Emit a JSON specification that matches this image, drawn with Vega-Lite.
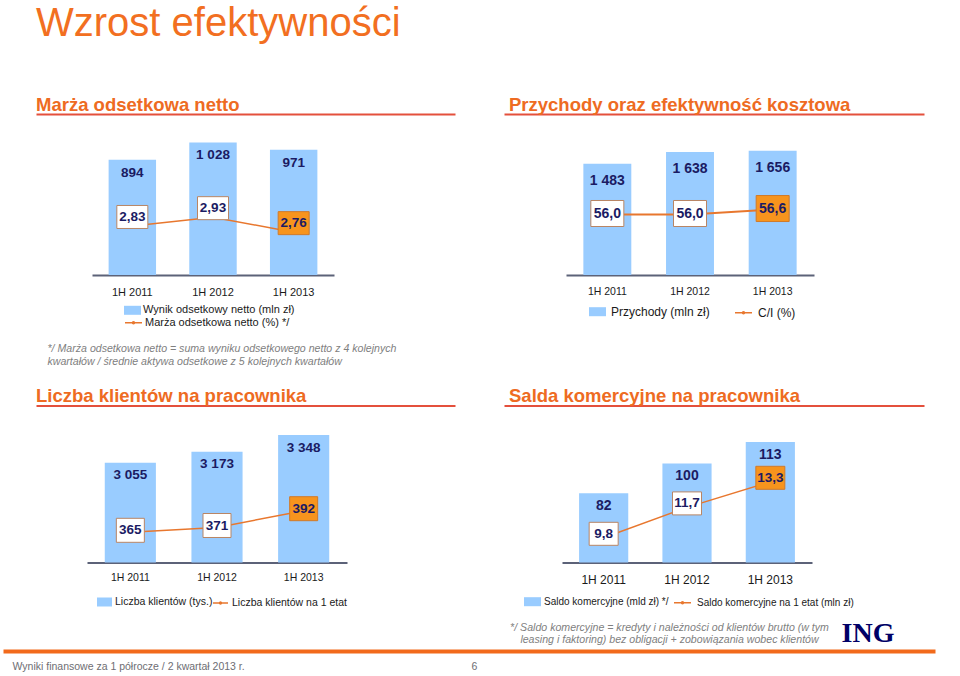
{
  "$schema": "https://vega.github.io/schema/vega-lite/v6.json",
  "padding": {"left": 11, "top": 3, "right": 0, "bottom": 0},
  "title": {"text": "Wzrost efektywności", "anchor": "start", "frame": "group", "fontSize": 40, "fontWeight": "normal", "font": "Liberation Sans", "color": "#F26F21", "offset": 52},
  "columns": 2,
  "bounds": "flush",
  "spacing": {"row": 130.5, "column": 49},
  "resolve": {"scale": {"fill": "independent", "stroke": "independent"}, "legend": {"fill": "independent", "stroke": "independent"}},
  "concat": [
    {
      "width": 419, "height": 161,
      "title": {"text": "Marża odsetkowa netto", "anchor": "start", "frame": "group", "fontSize": 18.5, "fontWeight": "bold", "color": "#EE6B22", "offset": 0},
      "data": {"values": [
        {"period": "1H 2011", "value": 894, "ratio": 2.83},
        {"period": "1H 2012", "value": 1028, "ratio": 2.93},
        {"period": "1H 2013", "value": 971, "ratio": 2.76}
      ]},
      "layer": [
        {"mark": {"type": "point", "opacity": 0, "size": 0},
         "encoding": {"x": {"datum": 0, "type": "quantitative", "scale": {"domain": [0, 1]}, "axis": {"orient": "top", "domain": true, "domainColor": "#E4503C", "domainWidth": 2, "labels": false, "ticks": false, "grid": false, "title": null}},
                      "y": {"datum": 0, "type": "quantitative", "scale": {"domain": [0, 1]}, "axis": null}}},
        {"mark": {"type": "bar"},
         "encoding": {
           "x": {"field": "period", "type": "nominal", "scale": {"type": "band", "domain": ["1H 2011", "1H 2012", "1H 2013"], "range": [56, 298], "paddingInner": 0.412, "paddingOuter": 0.206},
             "axis": {"orient": "bottom", "domain": true, "domainColor": "#5C6278", "domainWidth": 2, "ticks": false, "grid": false, "labelAngle": 0, "labelFontSize": 11, "labelColor": "#1a1a1a", "labelPadding": 11,
               "title": ["*/ Marża odsetkowa netto = suma wyniku odsetkowego netto z 4 kolejnych", "kwartałów / średnie aktywa odsetkowe z 5 kolejnych kwartałów"],
               "titleX": 11, "titleY": 68, "titleAlign": "left", "titleBaseline": "top", "titleFontSize": 10.6, "titleFontStyle": "italic", "titleFontWeight": "normal", "titleColor": "#808080", "titleLineHeight": 13.4}},
           "y": {"field": "value", "type": "quantitative", "scale": {"domain": [0, 1248], "nice": false}, "axis": null},
           "fill": {"datum": "Wynik odsetkowy netto (mln zł)", "scale": {"range": ["#99CCFF"]},
             "legend": {"orient": "none", "legendX": 88, "legendY": 187.8, "title": null, "symbolType": "M-1,-0.53H1V0.53H-1Z", "symbolSize": 289, "symbolStrokeWidth": 0, "labelFontSize": 11, "labelOffset": 2, "labelColor": "#1a1a1a", "padding": 0, "labelLimit": 400}}}},
        {"mark": {"type": "text", "baseline": "middle", "dy": 13, "fontSize": 13.5, "fontWeight": "bold", "color": "#1B1B63"},
         "encoding": {
           "x": {"field": "period", "type": "nominal", "scale": {"type": "band", "domain": ["1H 2011", "1H 2012", "1H 2013"], "range": [56, 298], "paddingInner": 0.412, "paddingOuter": 0.206}, "axis": null},
           "y": {"field": "value", "type": "quantitative", "scale": {"domain": [0, 1248], "nice": false}, "axis": null},
           "text": {"field": "value", "type": "quantitative", "format": ",d"}}},
        {"mark": {"type": "line", "strokeWidth": 1.5},
         "encoding": {
           "x": {"field": "period", "type": "nominal", "scale": {"type": "band", "domain": ["1H 2011", "1H 2012", "1H 2013"], "range": [56, 298], "paddingInner": 0.412, "paddingOuter": 0.206}, "axis": null},
           "y": {"field": "ratio", "type": "quantitative", "scale": {"domain": [2.273, 4.1025], "nice": false, "zero": false}, "axis": null},
           "stroke": {"datum": "Marża odsetkowa netto (%) */", "scale": {"range": ["#E8772E"]},
             "legend": {"orient": "none", "legendX": 88, "legendY": 199.2, "title": null, "symbolType": "M-1,0H1M-0.12,0A0.12,0.12,0,1,1,0.12,0A0.12,0.12,0,1,1,-0.12,0", "symbolSize": 289, "symbolStrokeWidth": 1.5, "labelFontSize": 11, "labelOffset": 2, "labelColor": "#1a1a1a", "padding": 0, "labelLimit": 400}}}},
        {"mark": {"type": "point", "shape": "M-1,-0.742H1V0.742H-1Z", "size": 961, "filled": true, "opacity": 1, "strokeWidth": 1, "yOffset": -9},
         "encoding": {
           "x": {"field": "period", "type": "nominal", "scale": {"type": "band", "domain": ["1H 2011", "1H 2012", "1H 2013"], "range": [56, 298], "paddingInner": 0.412, "paddingOuter": 0.206}, "axis": null},
           "y": {"field": "ratio", "type": "quantitative", "scale": {"domain": [2.273, 4.1025], "nice": false, "zero": false}, "axis": null},
           "fill": {"condition": {"test": "datum.period === '1H 2013'", "value": "#F7941D"}, "value": "#FFFFFF"},
           "stroke": {"condition": {"test": "datum.period === '1H 2013'", "value": "#D07A2A"}, "value": "#B98564"}}},
        {"mark": {"type": "text", "baseline": "middle", "dy": -9, "fontSize": 13.5, "fontWeight": "bold", "color": "#1B1B63"},
         "encoding": {
           "x": {"field": "period", "type": "nominal", "scale": {"type": "band", "domain": ["1H 2011", "1H 2012", "1H 2013"], "range": [56, 298], "paddingInner": 0.412, "paddingOuter": 0.206}, "axis": null},
           "y": {"field": "ratio", "type": "quantitative", "scale": {"domain": [2.273, 4.1025], "nice": false, "zero": false}, "axis": null},
           "text": {"field": "ratio", "type": "quantitative", "format": ".2f"}}}
      ],
      "resolve": {"scale": {"x": "independent", "y": "independent"}, "axis": {"x": "independent", "y": "independent"}}
    },
    {
      "width": 420, "height": 161,
      "title": {"text": "Przychody oraz efektywność kosztowa", "anchor": "start", "frame": "group", "fontSize": 18.5, "fontWeight": "bold", "color": "#EE6B22", "offset": 0, "dx": 5},
      "data": {"values": [
        {"period": "1H 2011", "value": 1483, "ratio": 56.0},
        {"period": "1H 2012", "value": 1638, "ratio": 56.0},
        {"period": "1H 2013", "value": 1656, "ratio": 56.6}
      ]},
      "layer": [
        {"mark": {"type": "point", "opacity": 0, "size": 0},
         "encoding": {"x": {"datum": 0, "type": "quantitative", "scale": {"domain": [0, 1]}, "axis": {"orient": "top", "domain": true, "domainColor": "#E4503C", "domainWidth": 2, "labels": false, "ticks": false, "grid": false, "title": null}},
                      "y": {"datum": 0, "type": "quantitative", "scale": {"domain": [0, 1]}, "axis": null}}},
        {"mark": {"type": "bar"},
         "encoding": {
           "x": {"field": "period", "type": "nominal", "scale": {"type": "band", "domain": ["1H 2011", "1H 2012", "1H 2013"], "range": [62, 310], "paddingInner": 0.42, "paddingOuter": 0.21},
             "axis": {"orient": "bottom", "domain": true, "domainColor": "#5C6278", "domainWidth": 2, "ticks": false, "grid": false, "labelAngle": 0, "labelFontSize": 10.5, "labelColor": "#1a1a1a", "labelPadding": 11, "title": null}},
           "y": {"field": "value", "type": "quantitative", "scale": {"domain": [0, 2144], "nice": false}, "axis": null},
           "fill": {"datum": "Przychody (mln zł)", "scale": {"range": ["#99CCFF"]},
             "legend": {"orient": "none", "legendX": 85, "legendY": 189.2, "title": null, "symbolType": "M-1,-0.53H1V0.53H-1Z", "symbolSize": 289, "symbolStrokeWidth": 0, "labelFontSize": 12, "labelOffset": 5, "labelColor": "#1a1a1a", "padding": 0, "labelLimit": 400}}}},
        {"mark": {"type": "text", "baseline": "middle", "dy": 17, "fontSize": 14, "fontWeight": "bold", "color": "#1B1B63"},
         "encoding": {
           "x": {"field": "period", "type": "nominal", "scale": {"type": "band", "domain": ["1H 2011", "1H 2012", "1H 2013"], "range": [62, 310], "paddingInner": 0.42, "paddingOuter": 0.21}, "axis": null},
           "y": {"field": "value", "type": "quantitative", "scale": {"domain": [0, 2144], "nice": false}, "axis": null},
           "text": {"field": "value", "type": "quantitative", "format": ",d"}}},
        {"mark": {"type": "line", "strokeWidth": 2},
         "encoding": {
           "x": {"field": "period", "type": "nominal", "scale": {"type": "band", "domain": ["1H 2011", "1H 2012", "1H 2013"], "range": [62, 310], "paddingInner": 0.42, "paddingOuter": 0.21}, "axis": null},
           "y": {"field": "ratio", "type": "quantitative", "scale": {"domain": [48.71, 68.11], "nice": false, "zero": false}, "axis": null},
           "stroke": {"datum": "C/I (%)", "scale": {"range": ["#E8772E"]},
             "legend": {"orient": "none", "legendX": 230, "legendY": 189.2, "title": null, "symbolType": "M-1,0H1M-0.12,0A0.12,0.12,0,1,1,0.12,0A0.12,0.12,0,1,1,-0.12,0", "symbolSize": 289, "symbolStrokeWidth": 1.5, "labelFontSize": 12, "labelOffset": 5, "labelColor": "#1a1a1a", "padding": 0, "labelLimit": 400}}}},
        {"mark": {"type": "point", "shape": "M-1,-0.788H1V0.788H-1Z", "size": 1089, "filled": true, "opacity": 1, "strokeWidth": 1, "yOffset": -1},
         "encoding": {
           "x": {"field": "period", "type": "nominal", "scale": {"type": "band", "domain": ["1H 2011", "1H 2012", "1H 2013"], "range": [62, 310], "paddingInner": 0.42, "paddingOuter": 0.21}, "axis": null},
           "y": {"field": "ratio", "type": "quantitative", "scale": {"domain": [48.71, 68.11], "nice": false, "zero": false}, "axis": null},
           "fill": {"condition": {"test": "datum.period === '1H 2013'", "value": "#F7941D"}, "value": "#FFFFFF"},
           "stroke": {"condition": {"test": "datum.period === '1H 2013'", "value": "#D07A2A"}, "value": "#B98564"}}},
        {"mark": {"type": "text", "baseline": "middle", "dy": -1, "fontSize": 14, "fontWeight": "bold", "color": "#1B1B63"},
         "encoding": {
           "x": {"field": "period", "type": "nominal", "scale": {"type": "band", "domain": ["1H 2011", "1H 2012", "1H 2013"], "range": [62, 310], "paddingInner": 0.42, "paddingOuter": 0.21}, "axis": null},
           "y": {"field": "ratio", "type": "quantitative", "scale": {"domain": [48.71, 68.11], "nice": false, "zero": false}, "axis": null},
           "text": {"field": "ratio", "type": "quantitative", "format": ".1f"}}}
      ],
      "resolve": {"scale": {"x": "independent", "y": "independent"}, "axis": {"x": "independent", "y": "independent"}}
    },
    {
      "width": 419, "height": 157,
      "title": {"text": "Liczba klientów na pracownika", "anchor": "start", "frame": "group", "fontSize": 18.5, "fontWeight": "bold", "color": "#EE6B22", "offset": 0},
      "data": {"values": [
        {"period": "1H 2011", "value": 3055, "ratio": 365},
        {"period": "1H 2012", "value": 3173, "ratio": 371},
        {"period": "1H 2013", "value": 3348, "ratio": 392}
      ]},
      "layer": [
        {"mark": {"type": "point", "opacity": 0, "size": 0},
         "encoding": {"x": {"datum": 0, "type": "quantitative", "scale": {"domain": [0, 1]}, "axis": {"orient": "top", "domain": true, "domainColor": "#E4503C", "domainWidth": 2, "labels": false, "ticks": false, "grid": false, "title": null}},
                      "y": {"datum": 0, "type": "quantitative", "scale": {"domain": [0, 1]}, "axis": null}}},
        {"mark": {"type": "point", "opacity": 0, "size": 0},
         "encoding": {"x": {"datum": "6", "type": "nominal", "scale": {"type": "point", "domain": ["Wyniki finansowe za 1 półrocze / 2 kwartał 2013 r.", "6"], "range": [-33, 899], "padding": 0.515, "align": 0.019},
           "axis": {"orient": "bottom", "offset": 88.5, "domain": true, "domainColor": "#F26A1B", "domainWidth": 4, "ticks": false, "grid": false, "labelAngle": 0, "labelAlign": "left", "labelPadding": 10, "labelFontSize": 10.5, "labelColor": "#6E6E73", "labelLimit": 500, "title": null}},
                      "y": {"datum": 0, "type": "quantitative", "scale": {"domain": [0, 1]}, "axis": null}}},
        {"mark": {"type": "bar"},
         "encoding": {
           "x": {"field": "period", "type": "nominal", "scale": {"type": "band", "domain": ["1H 2011", "1H 2012", "1H 2013"], "range": [51, 311], "paddingInner": 0.41, "paddingOuter": 0.205},
             "axis": {"orient": "bottom", "domain": true, "domainColor": "#5C6278", "domainWidth": 2, "ticks": false, "grid": false, "labelAngle": 0, "labelFontSize": 10.5, "labelColor": "#1a1a1a", "labelPadding": 10, "title": null}},
           "y": {"field": "value", "type": "quantitative", "scale": {"domain": [2000, 3661], "nice": false, "zero": false}, "axis": null},
           "y2": {"datum": 2000},
           "fill": {"datum": "Liczba klientów (tys.)", "scale": {"range": ["#99CCFF"]},
             "legend": {"orient": "none", "legendX": 61, "legendY": 189, "title": null, "symbolType": "M-1,-0.6H1V0.6H-1Z", "symbolSize": 225, "symbolStrokeWidth": 0, "labelFontSize": 10.5, "labelOffset": 3, "labelColor": "#1a1a1a", "padding": 0, "labelLimit": 400}}}},
        {"mark": {"type": "text", "baseline": "middle", "dy": 12.6, "fontSize": 13.5, "fontWeight": "bold", "color": "#1B1B63"},
         "encoding": {
           "x": {"field": "period", "type": "nominal", "scale": {"type": "band", "domain": ["1H 2011", "1H 2012", "1H 2013"], "range": [51, 311], "paddingInner": 0.41, "paddingOuter": 0.205}, "axis": null},
           "y": {"field": "value", "type": "quantitative", "scale": {"domain": [2000, 3661], "nice": false, "zero": false}, "axis": null},
           "text": {"field": "value", "type": "quantitative", "format": ",d"}}},
        {"mark": {"type": "line", "strokeWidth": 1.5},
         "encoding": {
           "x": {"field": "period", "type": "nominal", "scale": {"type": "band", "domain": ["1H 2011", "1H 2012", "1H 2013"], "range": [51, 311], "paddingInner": 0.41, "paddingOuter": 0.205}, "axis": null},
           "y": {"field": "ratio", "type": "quantitative", "scale": {"domain": [327.25, 523.5], "nice": false, "zero": false}, "axis": null},
           "stroke": {"datum": "Liczba klientów na 1 etat", "scale": {"range": ["#E8772E"]},
             "legend": {"orient": "none", "legendX": 176, "legendY": 189, "title": null, "symbolType": "M-1,0H1M-0.12,0A0.12,0.12,0,1,1,0.12,0A0.12,0.12,0,1,1,-0.12,0", "symbolSize": 225, "symbolStrokeWidth": 1.5, "labelFontSize": 10.5, "labelOffset": 3, "labelColor": "#1a1a1a", "padding": 0, "labelLimit": 400}}}},
        {"mark": {"type": "point", "shape": "M-1,-0.857H1V0.857H-1Z", "size": 784, "filled": true, "opacity": 1, "strokeWidth": 1, "yOffset": -2},
         "encoding": {
           "x": {"field": "period", "type": "nominal", "scale": {"type": "band", "domain": ["1H 2011", "1H 2012", "1H 2013"], "range": [51, 311], "paddingInner": 0.41, "paddingOuter": 0.205}, "axis": null},
           "y": {"field": "ratio", "type": "quantitative", "scale": {"domain": [327.25, 523.5], "nice": false, "zero": false}, "axis": null},
           "fill": {"condition": {"test": "datum.period === '1H 2013'", "value": "#F7941D"}, "value": "#FFFFFF"},
           "stroke": {"condition": {"test": "datum.period === '1H 2013'", "value": "#D07A2A"}, "value": "#B98564"}}},
        {"mark": {"type": "text", "baseline": "middle", "dy": -2, "fontSize": 13.5, "fontWeight": "bold", "color": "#1B1B63"},
         "encoding": {
           "x": {"field": "period", "type": "nominal", "scale": {"type": "band", "domain": ["1H 2011", "1H 2012", "1H 2013"], "range": [51, 311], "paddingInner": 0.41, "paddingOuter": 0.205}, "axis": null},
           "y": {"field": "ratio", "type": "quantitative", "scale": {"domain": [327.25, 523.5], "nice": false, "zero": false}, "axis": null},
           "text": {"field": "ratio", "type": "quantitative", "format": "d"}}}
      ],
      "resolve": {"scale": {"x": "independent", "y": "independent"}, "axis": {"x": "independent", "y": "independent"}}
    },
    {
      "width": 420, "height": 157,
      "title": {"text": "Salda komercyjne na pracownika", "anchor": "start", "frame": "group", "fontSize": 18.5, "fontWeight": "bold", "color": "#EE6B22", "offset": 0, "dx": 5},
      "data": {"values": [
        {"period": "1H 2011", "value": 82, "ratio": 9.8},
        {"period": "1H 2012", "value": 100, "ratio": 11.7},
        {"period": "1H 2013", "value": 113, "ratio": 13.3}
      ]},
      "layer": [
        {"mark": {"type": "point", "opacity": 0, "size": 0},
         "encoding": {"x": {"datum": 0, "type": "quantitative", "scale": {"domain": [0, 1]}, "axis": {"orient": "top", "domain": true, "domainColor": "#E4503C", "domainWidth": 2, "labels": false, "ticks": false, "grid": false, "title": null}},
                      "y": {"datum": 0, "type": "quantitative", "scale": {"domain": [0, 1]}, "axis": null}}},
        {"mark": {"type": "point", "opacity": 0, "size": 0},
         "encoding": {"x": {"datum": "ING", "type": "nominal", "scale": {"type": "point", "domain": ["ING"], "range": [353.5, 373.5]},
           "axis": {"orient": "top", "offset": -245.5, "domain": false, "ticks": false, "grid": false, "labelAngle": 0, "labelFont": "Liberation Serif", "labelFontWeight": "bold", "labelFontSize": 28, "labelColor": "#000066", "labelPadding": 4, "title": null}},
                      "y": {"datum": 0, "type": "quantitative", "scale": {"domain": [0, 1]}, "axis": null}}},
        {"mark": {"type": "bar"},
         "encoding": {
           "x": {"field": "period", "type": "nominal", "scale": {"type": "band", "domain": ["1H 2011", "1H 2012", "1H 2013"], "range": [58, 308], "paddingInner": 0.41, "paddingOuter": 0.205},
             "axis": {"orient": "bottom", "domain": true, "domainColor": "#5C6278", "domainWidth": 2, "ticks": false, "grid": false, "labelAngle": 0, "labelFontSize": 12, "labelColor": "#1a1a1a", "labelPadding": 12,
               "title": ["*/ Saldo komercyjne = kredyty i należności od klientów brutto (w tym", "leasing i faktoring) bez obligacji + zobowiązania wobec klientów"],
               "titleX": 165, "titleY": 59.5, "titleAlign": "center", "titleBaseline": "top", "titleFontSize": 10.6, "titleFontStyle": "italic", "titleFontWeight": "normal", "titleColor": "#808080", "titleLineHeight": 12.3}},
           "y": {"field": "value", "type": "quantitative", "scale": {"domain": [40, 135.15], "nice": false, "zero": false}, "axis": null},
           "y2": {"datum": 40},
           "fill": {"datum": "Saldo komercyjne (mld zł) */", "scale": {"range": ["#99CCFF"]},
             "legend": {"orient": "none", "legendX": 20, "legendY": 187.7, "title": null, "symbolType": "M-1,-0.53H1V0.53H-1Z", "symbolSize": 289, "symbolStrokeWidth": 0, "labelFontSize": 10, "labelOffset": 3, "labelColor": "#1a1a1a", "padding": 0, "labelLimit": 400}}}},
        {"mark": {"type": "text", "baseline": "middle", "dy": 12.5, "fontSize": 14, "fontWeight": "bold", "color": "#1B1B63"},
         "encoding": {
           "x": {"field": "period", "type": "nominal", "scale": {"type": "band", "domain": ["1H 2011", "1H 2012", "1H 2013"], "range": [58, 308], "paddingInner": 0.41, "paddingOuter": 0.205}, "axis": null},
           "y": {"field": "value", "type": "quantitative", "scale": {"domain": [40, 135.15], "nice": false, "zero": false}, "axis": null},
           "text": {"field": "value", "type": "quantitative", "format": "d"}}},
        {"mark": {"type": "line", "strokeWidth": 1.5},
         "encoding": {
           "x": {"field": "period", "type": "nominal", "scale": {"type": "band", "domain": ["1H 2011", "1H 2012", "1H 2013"], "range": [58, 308], "paddingInner": 0.41, "paddingOuter": 0.205}, "axis": null},
           "y": {"field": "ratio", "type": "quantitative", "scale": {"domain": [8.256, 18.07], "nice": false, "zero": false}, "axis": null},
           "stroke": {"datum": "Saldo komercyjne na 1 etat (mln zł)", "scale": {"range": ["#E8772E"]},
             "legend": {"orient": "none", "legendX": 169, "legendY": 187.7, "title": null, "symbolType": "M-1,0H1M-0.12,0A0.12,0.12,0,1,1,0.12,0A0.12,0.12,0,1,1,-0.12,0", "symbolSize": 289, "symbolStrokeWidth": 1.5, "labelFontSize": 10, "labelOffset": 5, "labelColor": "#1a1a1a", "padding": 0, "labelLimit": 400}}}},
        {"mark": {"type": "point", "shape": "M-1,-0.793H1V0.793H-1Z", "size": 841, "filled": true, "opacity": 1, "strokeWidth": 1, "yOffset": -4},
         "encoding": {
           "x": {"field": "period", "type": "nominal", "scale": {"type": "band", "domain": ["1H 2011", "1H 2012", "1H 2013"], "range": [58, 308], "paddingInner": 0.41, "paddingOuter": 0.205}, "axis": null},
           "y": {"field": "ratio", "type": "quantitative", "scale": {"domain": [8.256, 18.07], "nice": false, "zero": false}, "axis": null},
           "fill": {"condition": {"test": "datum.period === '1H 2013'", "value": "#F7941D"}, "value": "#FFFFFF"},
           "stroke": {"condition": {"test": "datum.period === '1H 2013'", "value": "#D07A2A"}, "value": "#B98564"}}},
        {"mark": {"type": "text", "baseline": "middle", "dy": -4, "fontSize": 13.5, "fontWeight": "bold", "color": "#1B1B63"},
         "encoding": {
           "x": {"field": "period", "type": "nominal", "scale": {"type": "band", "domain": ["1H 2011", "1H 2012", "1H 2013"], "range": [58, 308], "paddingInner": 0.41, "paddingOuter": 0.205}, "axis": null},
           "y": {"field": "ratio", "type": "quantitative", "scale": {"domain": [8.256, 18.07], "nice": false, "zero": false}, "axis": null},
           "text": {"field": "ratio", "type": "quantitative", "format": ".1f"}}}
      ],
      "resolve": {"scale": {"x": "independent", "y": "independent"}, "axis": {"x": "independent", "y": "independent"}}
    }
  ],
  "config": {
    "view": {"stroke": null},
    "font": "Liberation Sans",
    "locale": {"number": {"decimal": ",", "thousands": " ", "grouping": [3], "currency": ["", " zł"]}},
    "axis": {"labelFont": "Liberation Sans", "titleFont": "Liberation Sans"},
    "legend": {"labelFont": "Liberation Sans"},
    "title": {"font": "Liberation Sans"}
  }
}
